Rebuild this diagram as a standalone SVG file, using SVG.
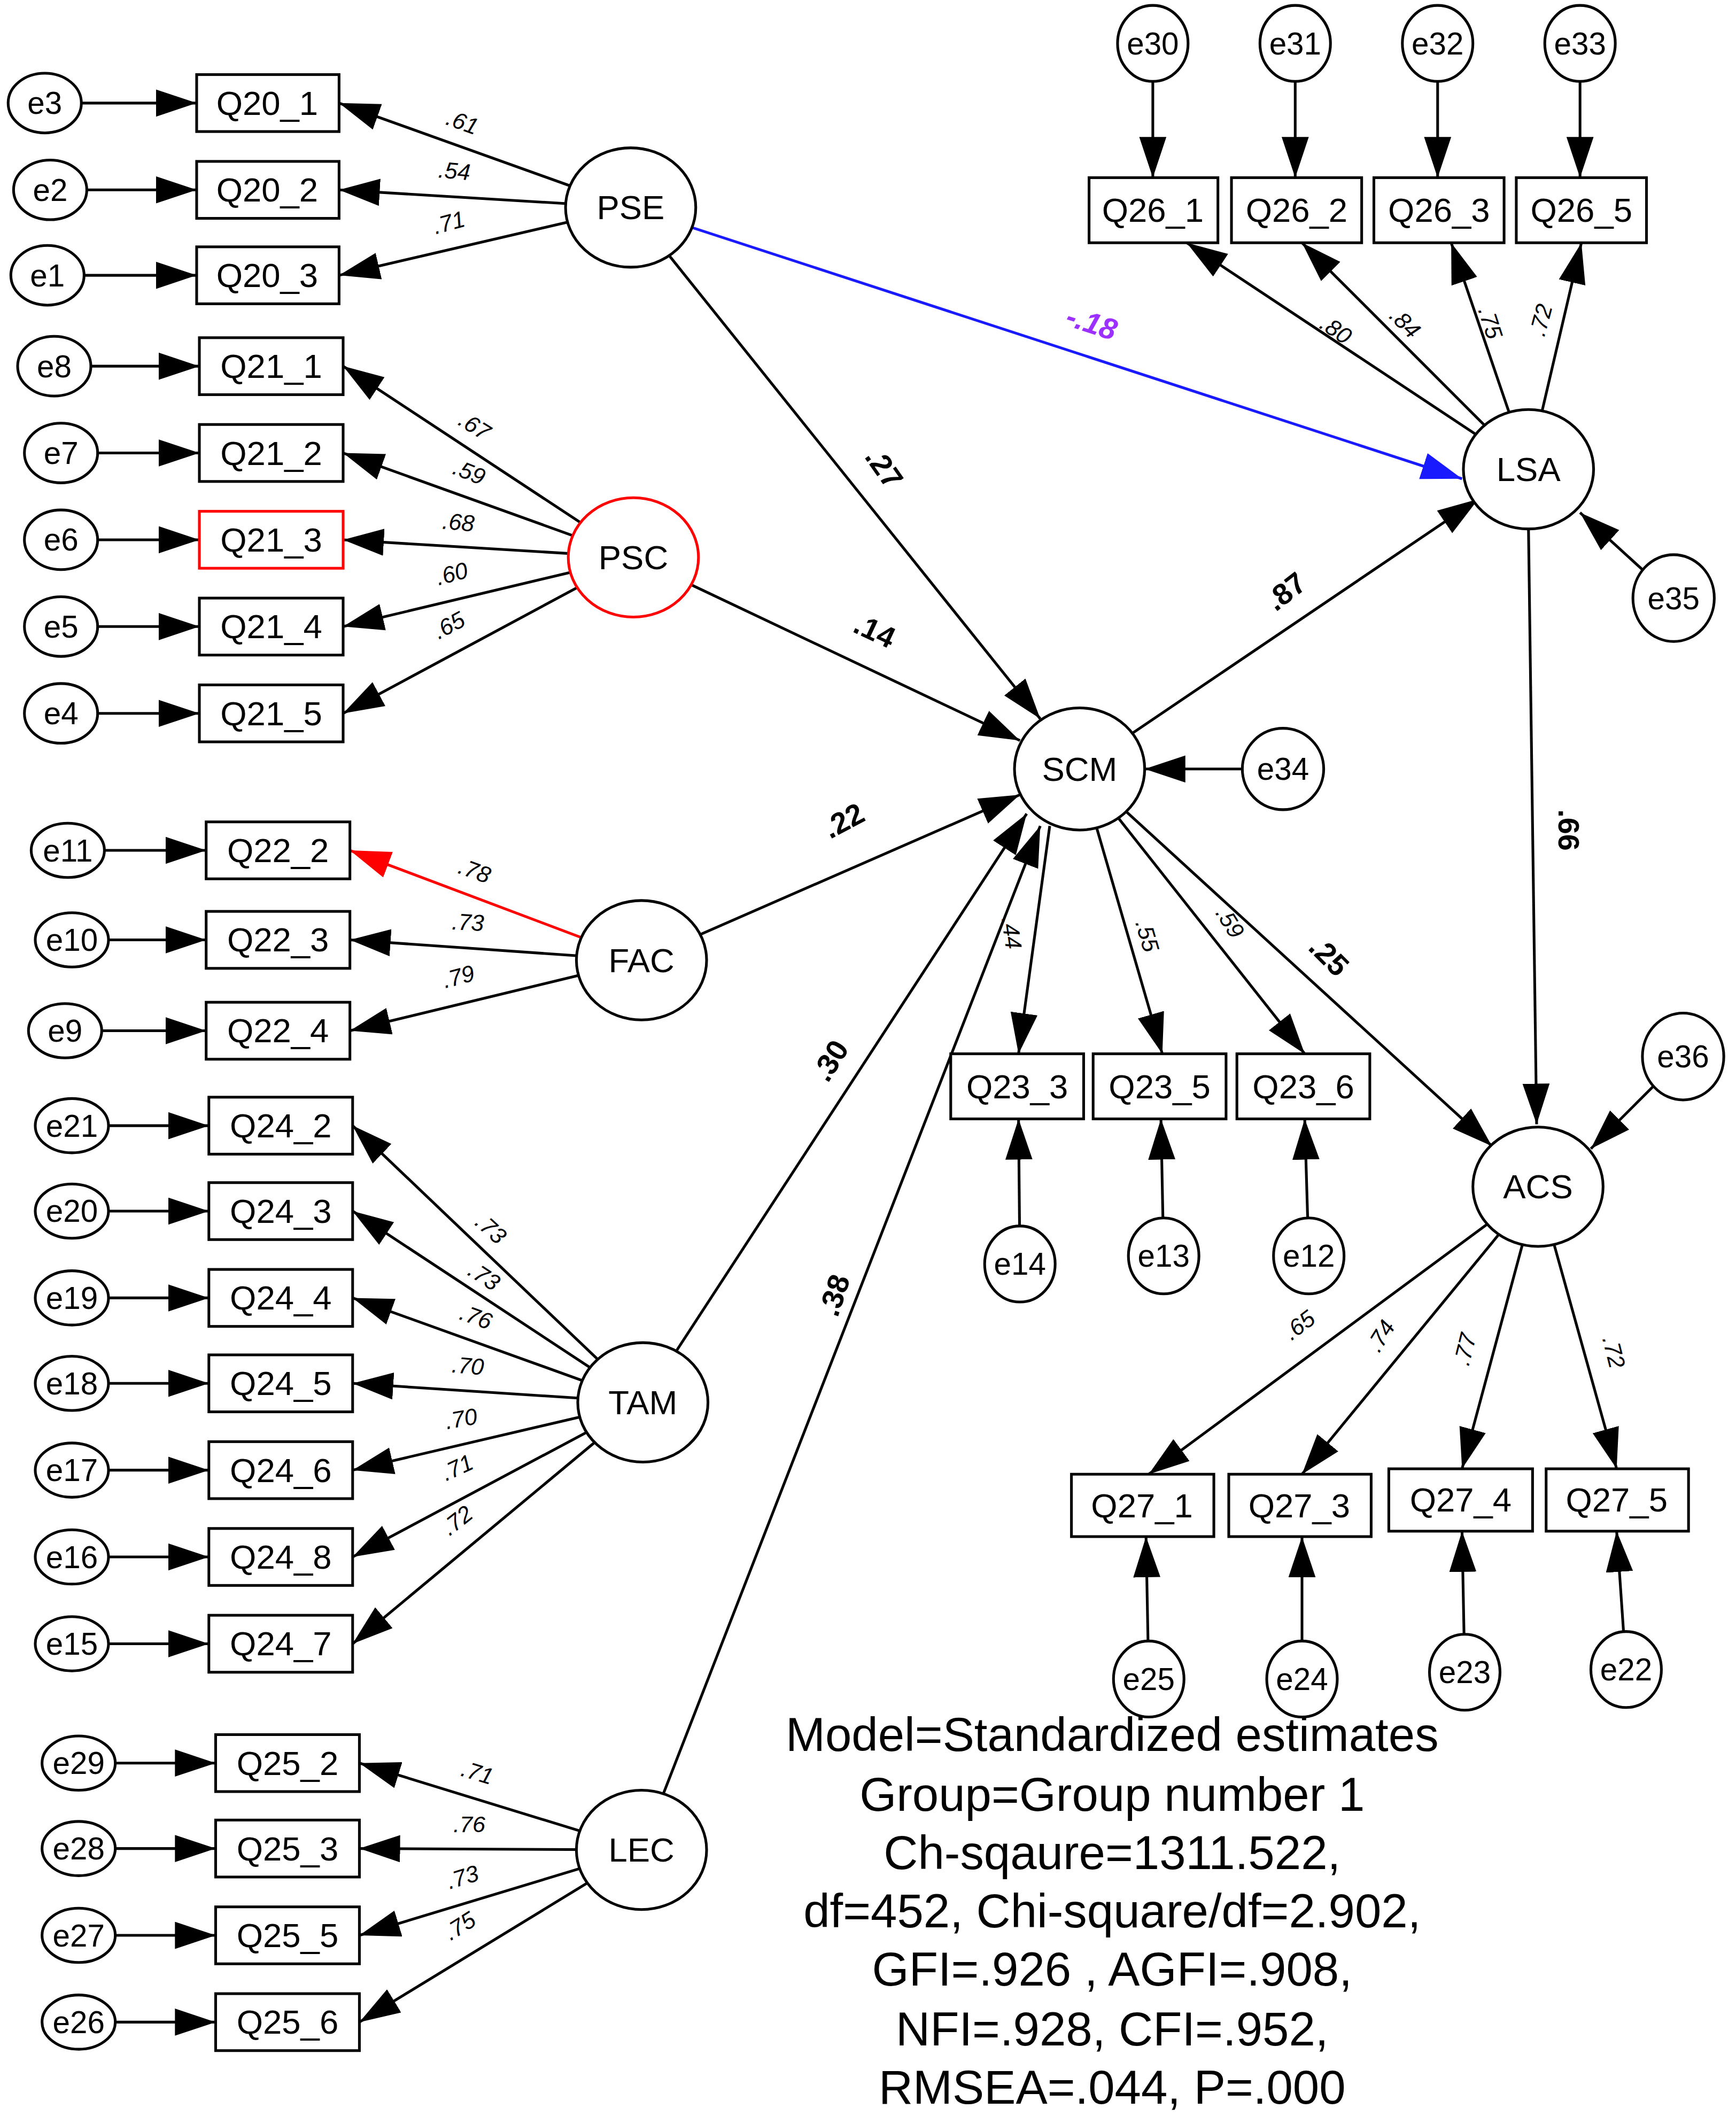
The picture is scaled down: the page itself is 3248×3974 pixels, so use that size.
<svg xmlns="http://www.w3.org/2000/svg" width="3248" height="3974" viewBox="0 0 3248 3974">
<defs>
<marker id="ah" markerUnits="userSpaceOnUse" markerWidth="34" markerHeight="22" refX="30" refY="10" orient="auto"><path d="M0,0 L30,10 L0,20 Z" fill="#000"/></marker>
<marker id="ahb" markerUnits="userSpaceOnUse" markerWidth="34" markerHeight="22" refX="30" refY="10" orient="auto"><path d="M0,0 L30,10 L0,20 Z" fill="#1a1aff"/></marker>
<marker id="ahr" markerUnits="userSpaceOnUse" markerWidth="34" markerHeight="22" refX="30" refY="10" orient="auto"><path d="M0,0 L30,10 L0,20 Z" fill="#f00"/></marker>
<style>
.c line{stroke:#000;stroke-width:2;marker-end:url(#ah)}
.n ellipse,.n rect{fill:#fff;stroke:#000;stroke-width:2}
.n text{font-family:"Liberation Sans",Arial,sans-serif;font-size:25px;text-anchor:middle;dominant-baseline:central}
.e text{font-size:23px}
.l{font-family:"Liberation Sans",Arial,sans-serif;font-size:17px;font-style:italic;text-anchor:middle;dominant-baseline:central}
.s{font-family:"Liberation Sans",Arial,sans-serif;font-size:22px;font-weight:bold;text-anchor:middle;dominant-baseline:central}
.m{font-family:"Liberation Sans",Arial,sans-serif;font-size:35px;text-anchor:middle}
</style>
</defs>
<rect width="3248" height="3974" fill="#fff"/>
<g transform="scale(2.5375)">
<g class="c" id="connectors">
<line x1="465" y1="153" x2="250" y2="76"/><line x1="465" y1="153" x2="250" y2="140"/><line x1="465" y1="153" x2="250" y2="203"/>
<line x1="33" y1="76" x2="145" y2="76"/><line x1="37" y1="140" x2="145" y2="140"/><line x1="35" y1="203" x2="145" y2="203"/>
<line x1="467" y1="411" x2="253" y2="270"/><line x1="467" y1="411" x2="253" y2="334"/><line x1="467" y1="411" x2="253" y2="398"/><line x1="467" y1="411" x2="253" y2="462"/><line x1="467" y1="411" x2="253" y2="526"/>
<line x1="40" y1="270" x2="147" y2="270"/><line x1="45" y1="334" x2="147" y2="334"/><line x1="45" y1="398" x2="147" y2="398"/><line x1="45" y1="462" x2="147" y2="462"/><line x1="45" y1="526" x2="147" y2="526"/>
<line x1="473" y1="708" x2="258" y2="627" style="stroke:#f00;marker-end:url(#ahr)"/><line x1="473" y1="708" x2="258" y2="693"/><line x1="473" y1="708" x2="258" y2="760"/>
<line x1="50" y1="627" x2="152" y2="627"/><line x1="53" y1="693" x2="152" y2="693"/><line x1="48" y1="760" x2="152" y2="760"/>
<line x1="474" y1="1034" x2="260" y2="830"/><line x1="474" y1="1034" x2="260" y2="893"/><line x1="474" y1="1034" x2="260" y2="957"/><line x1="474" y1="1034" x2="260" y2="1020"/><line x1="474" y1="1034" x2="260" y2="1084"/><line x1="474" y1="1034" x2="260" y2="1148"/><line x1="474" y1="1034" x2="260" y2="1212"/>
<line x1="53" y1="830" x2="154" y2="830"/><line x1="53" y1="893" x2="154" y2="893"/><line x1="53" y1="957" x2="154" y2="957"/><line x1="53" y1="1020" x2="154" y2="1020"/><line x1="53" y1="1084" x2="154" y2="1084"/><line x1="53" y1="1148" x2="154" y2="1148"/><line x1="53" y1="1212" x2="154" y2="1212"/>
<line x1="473" y1="1364" x2="265" y2="1300"/><line x1="473" y1="1364" x2="265" y2="1363"/><line x1="473" y1="1364" x2="265" y2="1427"/><line x1="473" y1="1364" x2="265" y2="1491"/>
<line x1="58" y1="1300" x2="159" y2="1300"/><line x1="58" y1="1363" x2="159" y2="1363"/><line x1="58" y1="1427" x2="159" y2="1427"/><line x1="58" y1="1491" x2="159" y2="1491"/>
<line x1="465" y1="153" x2="767" y2="530"/>
<line x1="467" y1="411" x2="752" y2="546"/>
<line x1="473" y1="708" x2="752" y2="586"/>
<line x1="474" y1="1034" x2="757" y2="600"/>
<line x1="473" y1="1364" x2="767" y2="609"/>
<line x1="465" y1="153" x2="1078" y2="353" style="stroke:#1a1aff;marker-end:url(#ahb)"/>
<line x1="796" y1="567" x2="1090" y2="368"/>
<line x1="946" y1="567" x2="844" y2="567"/>
<line x1="774" y1="609" x2="751" y2="777"/>
<line x1="796" y1="567" x2="857" y2="777"/>
<line x1="796" y1="567" x2="962" y2="777"/>
<line x1="796" y1="567" x2="1100" y2="845"/>
<line x1="752" y1="932" x2="751" y2="825"/><line x1="858" y1="926" x2="856" y2="825"/><line x1="965" y1="926" x2="962" y2="825"/>
<line x1="1127" y1="346" x2="875" y2="179"/><line x1="1127" y1="346" x2="960" y2="179"/><line x1="1127" y1="346" x2="1070" y2="179"/><line x1="1127" y1="346" x2="1166" y2="179"/>
<line x1="850" y1="32" x2="850" y2="131"/><line x1="955" y1="32" x2="955" y2="131"/><line x1="1060" y1="32" x2="1060" y2="131"/><line x1="1165" y1="32" x2="1165" y2="131"/>
<line x1="1234" y1="441" x2="1165" y2="378"/>
<line x1="1127" y1="390" x2="1133" y2="829"/>
<line x1="1241" y1="779" x2="1173" y2="847"/>
<line x1="1134" y1="875" x2="847" y2="1087"/><line x1="1134" y1="875" x2="960" y2="1087"/><line x1="1134" y1="875" x2="1078" y2="1083"/><line x1="1134" y1="875" x2="1192" y2="1083"/>
<line x1="847" y1="1238" x2="845" y2="1133"/><line x1="960" y1="1238" x2="960" y2="1133"/><line x1="1080" y1="1233" x2="1078" y2="1129"/><line x1="1199" y1="1231" x2="1192" y2="1129"/>
</g>
<g class="n">
<g id="Q20_1"><rect x="145" y="55" width="105" height="42"/><text x="197" y="76">Q20_1</text></g>
<g id="Q20_2"><rect x="145" y="119" width="105" height="42"/><text x="197" y="140">Q20_2</text></g>
<g id="Q20_3"><rect x="145" y="182" width="105" height="42"/><text x="197" y="203">Q20_3</text></g>
<g id="Q21_1"><rect x="147" y="249" width="106" height="42"/><text x="200" y="270">Q21_1</text></g>
<g id="Q21_2"><rect x="147" y="313" width="106" height="42"/><text x="200" y="334">Q21_2</text></g>
<g id="Q21_3"><rect x="147" y="377" width="106" height="42" style="stroke:#f00"/><text x="200" y="398">Q21_3</text></g>
<g id="Q21_4"><rect x="147" y="441" width="106" height="42"/><text x="200" y="462">Q21_4</text></g>
<g id="Q21_5"><rect x="147" y="505" width="106" height="42"/><text x="200" y="526">Q21_5</text></g>
<g id="Q22_2"><rect x="152" y="606" width="106" height="42"/><text x="205" y="627">Q22_2</text></g>
<g id="Q22_3"><rect x="152" y="672" width="106" height="42"/><text x="205" y="693">Q22_3</text></g>
<g id="Q22_4"><rect x="152" y="739" width="106" height="42"/><text x="205" y="760">Q22_4</text></g>
<g id="Q24_2"><rect x="154" y="809" width="106" height="42"/><text x="207" y="830">Q24_2</text></g>
<g id="Q24_3"><rect x="154" y="872" width="106" height="42"/><text x="207" y="893">Q24_3</text></g>
<g id="Q24_4"><rect x="154" y="936" width="106" height="42"/><text x="207" y="957">Q24_4</text></g>
<g id="Q24_5"><rect x="154" y="999" width="106" height="42"/><text x="207" y="1020">Q24_5</text></g>
<g id="Q24_6"><rect x="154" y="1063" width="106" height="42"/><text x="207" y="1084">Q24_6</text></g>
<g id="Q24_8"><rect x="154" y="1127" width="106" height="42"/><text x="207" y="1148">Q24_8</text></g>
<g id="Q24_7"><rect x="154" y="1191" width="106" height="42"/><text x="207" y="1212">Q24_7</text></g>
<g id="Q25_2"><rect x="159" y="1279" width="106" height="42"/><text x="212" y="1300">Q25_2</text></g>
<g id="Q25_3"><rect x="159" y="1342" width="106" height="42"/><text x="212" y="1363">Q25_3</text></g>
<g id="Q25_5"><rect x="159" y="1406" width="106" height="42"/><text x="212" y="1427">Q25_5</text></g>
<g id="Q25_6"><rect x="159" y="1470" width="106" height="42"/><text x="212" y="1491">Q25_6</text></g>
<g id="Q23_3"><rect x="701" y="777" width="98" height="48"/><text x="750" y="801">Q23_3</text></g>
<g id="Q23_5"><rect x="806" y="777" width="98" height="48"/><text x="855" y="801">Q23_5</text></g>
<g id="Q23_6"><rect x="912" y="777" width="98" height="48"/><text x="961" y="801">Q23_6</text></g>
<g id="Q26_1"><rect x="803" y="131" width="95" height="48"/><text x="850" y="155">Q26_1</text></g>
<g id="Q26_2"><rect x="908" y="131" width="96" height="48"/><text x="956" y="155">Q26_2</text></g>
<g id="Q26_3"><rect x="1013" y="131" width="96" height="48"/><text x="1061" y="155">Q26_3</text></g>
<g id="Q26_5"><rect x="1118" y="131" width="96" height="48"/><text x="1166" y="155">Q26_5</text></g>
<g id="Q27_1"><rect x="790" y="1087" width="105" height="46"/><text x="842" y="1110">Q27_1</text></g>
<g id="Q27_3"><rect x="906" y="1087" width="105" height="46"/><text x="958" y="1110">Q27_3</text></g>
<g id="Q27_4"><rect x="1024" y="1083" width="106" height="46"/><text x="1077" y="1106">Q27_4</text></g>
<g id="Q27_5"><rect x="1140" y="1083" width="105" height="46"/><text x="1192" y="1106">Q27_5</text></g>
<g id="PSE"><ellipse cx="465" cy="153" rx="48" ry="44"/><text x="465" y="153">PSE</text></g>
<g id="PSC"><ellipse cx="467" cy="411" rx="48" ry="44" style="stroke:#f00"/><text x="467" y="411">PSC</text></g>
<g id="FAC"><ellipse cx="473" cy="708" rx="48" ry="44"/><text x="473" y="708">FAC</text></g>
<g id="TAM"><ellipse cx="474" cy="1034" rx="48" ry="44"/><text x="474" y="1034">TAM</text></g>
<g id="LEC"><ellipse cx="473" cy="1364" rx="48" ry="44"/><text x="473" y="1364">LEC</text></g>
<g id="SCM"><ellipse cx="796" cy="567" rx="48" ry="45"/><text x="796" y="567">SCM</text></g>
<g id="LSA"><ellipse cx="1127" cy="346" rx="48" ry="44"/><text x="1127" y="346">LSA</text></g>
<g id="ACS"><ellipse cx="1134" cy="875" rx="48" ry="44"/><text x="1134" y="875">ACS</text></g>
<g class="e">
<g id="e3"><ellipse cx="33" cy="76" rx="27" ry="22"/><text x="33" y="76">e3</text></g>
<g id="e2"><ellipse cx="37" cy="140" rx="27" ry="22"/><text x="37" y="140">e2</text></g>
<g id="e1"><ellipse cx="35" cy="203" rx="27" ry="22"/><text x="35" y="203">e1</text></g>
<g id="e8"><ellipse cx="40" cy="270" rx="27" ry="22"/><text x="40" y="270">e8</text></g>
<g id="e7"><ellipse cx="45" cy="334" rx="27" ry="22"/><text x="45" y="334">e7</text></g>
<g id="e6"><ellipse cx="45" cy="398" rx="27" ry="22"/><text x="45" y="398">e6</text></g>
<g id="e5"><ellipse cx="45" cy="462" rx="27" ry="22"/><text x="45" y="462">e5</text></g>
<g id="e4"><ellipse cx="45" cy="526" rx="27" ry="22"/><text x="45" y="526">e4</text></g>
<g id="e11"><ellipse cx="50" cy="627" rx="27" ry="20"/><text x="50" y="627">e11</text></g>
<g id="e10"><ellipse cx="53" cy="693" rx="27" ry="20"/><text x="53" y="693">e10</text></g>
<g id="e9"><ellipse cx="48" cy="760" rx="27" ry="20"/><text x="48" y="760">e9</text></g>
<g id="e21"><ellipse cx="53" cy="830" rx="27" ry="20"/><text x="53" y="830">e21</text></g>
<g id="e20"><ellipse cx="53" cy="893" rx="27" ry="20"/><text x="53" y="893">e20</text></g>
<g id="e19"><ellipse cx="53" cy="957" rx="27" ry="20"/><text x="53" y="957">e19</text></g>
<g id="e18"><ellipse cx="53" cy="1020" rx="27" ry="20"/><text x="53" y="1020">e18</text></g>
<g id="e17"><ellipse cx="53" cy="1084" rx="27" ry="20"/><text x="53" y="1084">e17</text></g>
<g id="e16"><ellipse cx="53" cy="1148" rx="27" ry="20"/><text x="53" y="1148">e16</text></g>
<g id="e15"><ellipse cx="53" cy="1212" rx="27" ry="20"/><text x="53" y="1212">e15</text></g>
<g id="e29"><ellipse cx="58" cy="1300" rx="27" ry="20"/><text x="58" y="1300">e29</text></g>
<g id="e28"><ellipse cx="58" cy="1363" rx="27" ry="20"/><text x="58" y="1363">e28</text></g>
<g id="e27"><ellipse cx="58" cy="1427" rx="27" ry="20"/><text x="58" y="1427">e27</text></g>
<g id="e26"><ellipse cx="58" cy="1491" rx="27" ry="20"/><text x="58" y="1491">e26</text></g>
<g id="e34"><ellipse cx="946" cy="567" rx="30" ry="30"/><text x="946" y="567">e34</text></g>
<g id="e35"><ellipse cx="1234" cy="441" rx="30" ry="32"/><text x="1234" y="441">e35</text></g>
<g id="e36"><ellipse cx="1241" cy="779" rx="30" ry="32"/><text x="1241" y="779">e36</text></g>
<g id="e14"><ellipse cx="752" cy="932" rx="26" ry="28"/><text x="752" y="932">e14</text></g>
<g id="e13"><ellipse cx="858" cy="926" rx="26" ry="28"/><text x="858" y="926">e13</text></g>
<g id="e12"><ellipse cx="965" cy="926" rx="26" ry="28"/><text x="965" y="926">e12</text></g>
<g id="e30"><ellipse cx="850" cy="32" rx="26" ry="28"/><text x="850" y="32">e30</text></g>
<g id="e31"><ellipse cx="955" cy="32" rx="26" ry="28"/><text x="955" y="32">e31</text></g>
<g id="e32"><ellipse cx="1060" cy="32" rx="26" ry="28"/><text x="1060" y="32">e32</text></g>
<g id="e33"><ellipse cx="1165" cy="32" rx="26" ry="28"/><text x="1165" y="32">e33</text></g>
<g id="e25"><ellipse cx="847" cy="1238" rx="26" ry="28"/><text x="847" y="1238">e25</text></g>
<g id="e24"><ellipse cx="960" cy="1238" rx="26" ry="28"/><text x="960" y="1238">e24</text></g>
<g id="e23"><ellipse cx="1080" cy="1233" rx="26" ry="28"/><text x="1080" y="1233">e23</text></g>
<g id="e22"><ellipse cx="1199" cy="1231" rx="26" ry="28"/><text x="1199" y="1231">e22</text></g>
</g>
</g>
<g id="labels">
<text class="l" transform="translate(341,90) rotate(20)">.61</text>
<text class="l" transform="translate(335,126) rotate(5)">.54</text>
<text class="l" transform="translate(331,164) rotate(-15)">.71</text>
<text class="l" transform="translate(350,314) rotate(32)">.67</text>
<text class="l" transform="translate(346,348) rotate(22)">.59</text>
<text class="l" transform="translate(338,385) rotate(5)">.68</text>
<text class="l" transform="translate(333,423) rotate(-15)">.60</text>
<text class="l" transform="translate(331,461) rotate(-28)">.65</text>
<text class="l" transform="translate(350,642) rotate(20)">.78</text>
<text class="l" transform="translate(345,680) rotate(3)">.73</text>
<text class="l" transform="translate(338,720) rotate(-15)">.79</text>
<text class="l" transform="translate(362,906) rotate(42)">.73</text>
<text class="l" transform="translate(357,941) rotate(33)">.73</text>
<text class="l" transform="translate(351,971) rotate(20)">.76</text>
<text class="l" transform="translate(345,1007) rotate(5)">.70</text>
<text class="l" transform="translate(340,1046) rotate(-10)">.70</text>
<text class="l" transform="translate(337,1082) rotate(-25)">.71</text>
<text class="l" transform="translate(337,1121) rotate(-38)">.72</text>
<text class="l" transform="translate(352,1307) rotate(17)">.71</text>
<text class="l" transform="translate(346,1345) rotate(0)">.76</text>
<text class="l" transform="translate(341,1384) rotate(-17)">.73</text>
<text class="l" transform="translate(339,1420) rotate(-32)">.75</text>
<text class="l" transform="translate(746,688) rotate(82)">.44</text>
<text class="l" transform="translate(846,690) rotate(74)">.55</text>
<text class="l" transform="translate(907,680) rotate(58)">.59</text>
<text class="l" transform="translate(985,243) rotate(34)">.80</text>
<text class="l" transform="translate(1036,238) rotate(45)">.84</text>
<text class="l" transform="translate(1099,238) rotate(72)">.75</text>
<text class="l" transform="translate(1136,236) rotate(-75)">.72</text>
<text class="l" transform="translate(958,977) rotate(-37)">.65</text>
<text class="l" transform="translate(1018,985) rotate(-58)">.74</text>
<text class="l" transform="translate(1080,995) rotate(-76)">.77</text>
<text class="l" transform="translate(1190,997) rotate(76)">.72</text>
<text class="s" transform="translate(652,345) rotate(55)">.27</text>
<text class="s" transform="translate(645,465) rotate(25)">.14</text>
<text class="s" transform="translate(622,605) rotate(-28)">.22</text>
<text class="s" transform="translate(612,782) rotate(-58)">.30</text>
<text class="s" transform="translate(615,955) rotate(-72)">.38</text>
<text class="s" transform="translate(948,436) rotate(-38)">.87</text>
<text class="s" transform="translate(980,705) rotate(45)">.25</text>
<text class="s" transform="translate(1157,612) rotate(90)">.66</text>
<text class="s" transform="translate(805,238) rotate(18)" style="fill:#9b30ff;font-style:italic">-.18</text>
</g>
<g id="fit">
<text class="m" x="820" y="1291">Model=Standardized estimates</text>
<text class="m" x="820" y="1335">Group=Group number 1</text>
<text class="m" x="820" y="1378">Ch-sqaure=1311.522,</text>
<text class="m" x="820" y="1421">df=452, Chi-square/df=2.902,</text>
<text class="m" x="820" y="1464">GFI=.926 , AGFI=.908,</text>
<text class="m" x="820" y="1508">NFI=.928, CFI=.952,</text>
<text class="m" x="820" y="1551">RMSEA=.044, P=.000</text>
</g>
</g>
</svg>
